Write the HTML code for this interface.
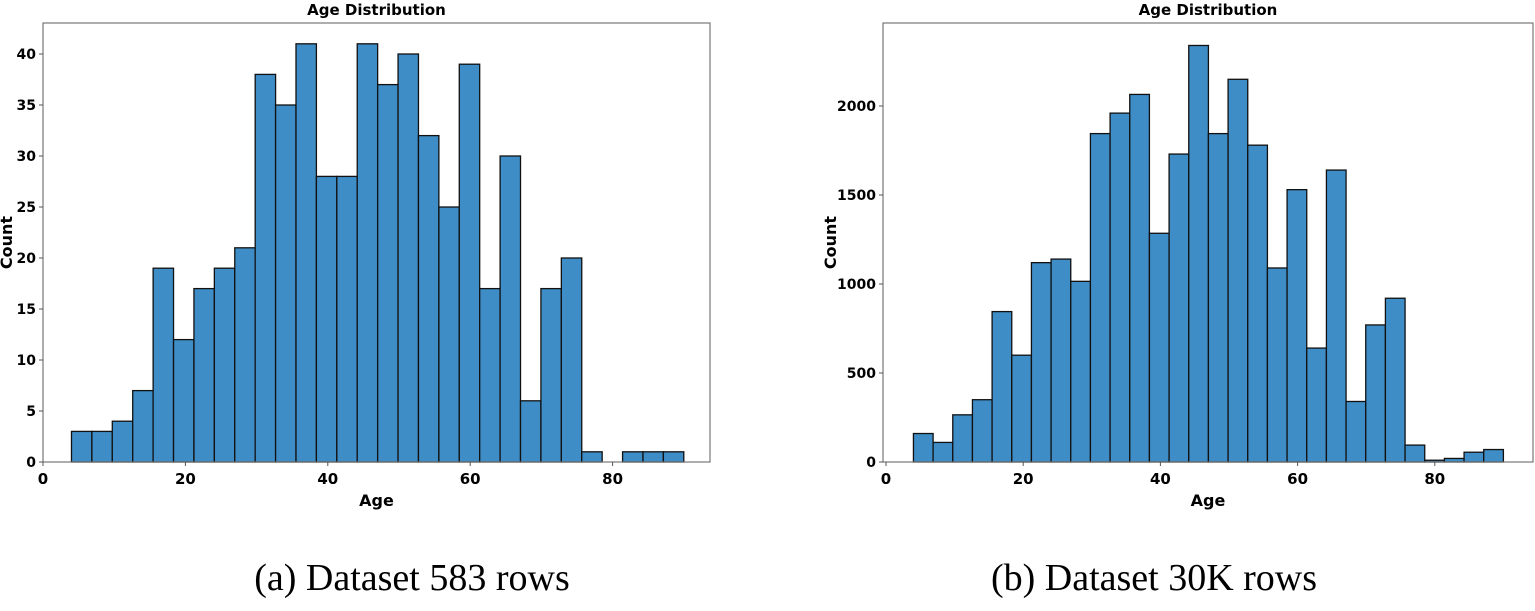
<!DOCTYPE html>
<html><head><meta charset="utf-8"><style>
body{margin:0;background:#fff;width:1535px;height:606px;overflow:hidden}
text{font-family:"DejaVu Sans","Liberation Sans",sans-serif}
</style></head><body>
<svg id="s" width="1535" height="606">
<text x="412" y="590" font-size="38" text-anchor="middle" style="font-family:'Liberation Serif',serif">(a) Dataset 583 rows</text>
<text x="1154" y="590" font-size="38" text-anchor="middle" style="font-family:'Liberation Serif',serif">(b) Dataset 30K rows</text>
</svg>
<script>
const categoriesStart = 4, categoriesEnd = 90;
const seriesA = [3,3,4,7,19,12,17,19,21,38,35,41,28,28,41,37,40,32,25,39,17,30,6,17,20,1,0,1,1,1];
const seriesB = [160,110,265,350,845,600,1120,1140,1015,1845,1960,2065,1285,1730,2340,1845,2150,1780,1090,1530,640,1640,340,770,920,95,10,20,55,70];
const ticksXA = [0,20,40,60,80];
const ticksYA = [0,5,10,15,20,25,30,35,40];
const ticksYB = [0,500,1000,1500,2000];
const svg = document.getElementById('s');
const NS = 'http://www.w3.org/2000/svg';
function mk(tag, attrs){const e=document.createElementNS(NS,tag);for(const k in attrs)e.setAttribute(k,attrs[k]);svg.appendChild(e);return e;}
function chart(cfg, values, yticks, pfx){
  const {left,right,top,bottom,x0,pxX,pxY}=cfg;
  const X=v=>x0+v*pxX, Y=v=>bottom-v*pxY;
  const n=values.length, w=(categoriesEnd-categoriesStart)/n;
  values.forEach((v,i)=>{
    if(v<=0) return;
    const r=mk('rect',{x:X(categoriesStart+i*w),y:Y(v),width:w*pxX,height:bottom-Y(v),fill:'#3f8dc6',stroke:'#111','stroke-width':1.3});
    
    
  });
  const f=mk('rect',{x:left,y:top,width:right-left,height:bottom-top,fill:'none',stroke:'#777','stroke-width':1.2});
  
  
  ticksXA.forEach(t=>{
    mk('line',{x1:X(t),x2:X(t),y1:bottom,y2:bottom+4,stroke:'#555'});
    const tx=mk('text',{x:X(t),y:bottom+22,'font-size':15,'font-weight':'bold','text-anchor':'middle'});
    tx.textContent=t;
    
    
  });
  yticks.forEach(t=>{
    mk('line',{x1:left-4,x2:left,y1:Y(t),y2:Y(t),stroke:'#555'});
    const tx=mk('text',{x:left-7,y:Y(t)+5,'font-size':14,'font-weight':'bold','text-anchor':'end'});
    tx.textContent=t;
    
    
  });
  const t=mk('text',{x:(left+right)/2,y:15,'font-size':15,'font-weight':'bold','text-anchor':'middle'});
  t.textContent='Age Distribution';
  
  
  const xl=mk('text',{x:(left+right)/2,y:bottom+44,'font-size':16,'font-weight':'bold','text-anchor':'middle'});
  xl.textContent='Age';
  
  
  const cy=(top+bottom)/2, cx=cfg.ylabX;
  const yl=mk('text',{x:cx,y:cy,'font-size':16,'font-weight':'bold','text-anchor':'middle',transform:`rotate(-90 ${cx} ${cy})`});
  yl.textContent='Count';
  
  
}
chart({left:43,right:710,top:23,bottom:462,x0:43,pxX:7.12,pxY:10.2,ylabX:12},seriesA,ticksYA,'left');
chart({left:883,right:1533,top:23,bottom:462,x0:886,pxX:6.86,pxY:0.178,ylabX:836},seriesB,ticksYB,'right');
</script>
</body></html>
